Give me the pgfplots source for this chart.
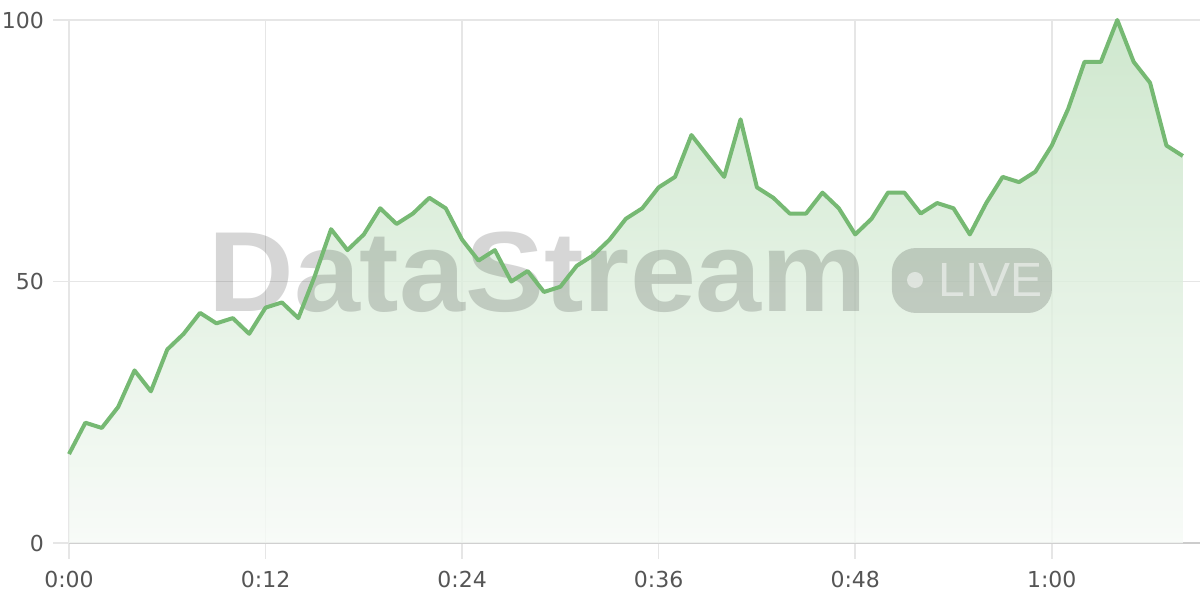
\documentclass[border=0pt]{standalone}
\usepackage{pgfplots}
\usepackage{pgfplotstable}
\pgfplotsset{compat=1.18}
\usepackage{fontspec}
\setmainfont{DejaVu Sans}
\newfontfamily\wmfont{Liberation Sans}
\definecolor{linegreen}{RGB}{118,185,115}
\definecolor{filltop}{RGB}{195,226,194}
\definecolor{fillbot}{RGB}{246,250,246}
\definecolor{gridgray}{RGB}{230,230,230}
\definecolor{axisgray}{RGB}{204,204,204}
\definecolor{labelgray}{RGB}{85,85,85}

\pgfplotstableread{
x y
0 17
1 23
2 22
3 26
4 33
5 29
6 37
7 40
8 44
9 42
10 43
11 40
12 45
13 46
14 43
15 51
16 60
17 56
18 59
19 64
20 61
21 63
22 66
23 64
24 58
25 54
26 56
27 50
28 52
29 48
30 49
31 53
32 55
33 58
34 62
35 64
36 68
37 70
38 78
39 74
40 70
41 81
42 68
43 66
44 63
45 63
46 67
47 64
48 59
49 62
50 67
51 67
52 63
53 65
54 64
55 59
56 65
57 70
58 69
59 71
60 76
61 83
62 92
63 92
64 100
65 92
66 88
67 76
68 74
}\datatable

\begin{document}
\begin{tikzpicture}
\useasboundingbox (-34.5pt,-28.5pt) rectangle (565.5pt,271.5pt);
\begin{axis}[
  at={(0,0)}, anchor=south west,
  scale only axis, width=565.5pt, height=261.5pt,
  xmin=0, xmax=69.05, ymin=0, ymax=100,
  xtick={0,12,24,36,48,60},
  xticklabels={0:00,0:12,0:24,0:36,0:48,1:00},
  ytick={0,50,100},
  axis x line*=bottom, axis y line*=left,
  axis line style={-},
  x axis line style={axisgray, line width=0.75pt},
  y axis line style={gridgray, line width=0.75pt},
  grid=major, major grid style={gridgray, line width=0.75pt},
  tick align=outside, major tick length=8pt,
  tick style={gridgray, line width=0.75pt},
  ticklabel style={font=\fontsize{11}{13}\selectfont, text=labelgray},
  xticklabel style={yshift=-2.5pt},
  yticklabel style={xshift=-1pt},
  /pgf/number format/assume math mode=true,
  clip=false,
]
\addplot[draw=none, top color=filltop, bottom color=fillbot, fill opacity=0.8] table {\datatable} \closedcycle;
\node[anchor=base west, inner sep=0pt, text=black, text opacity=0.16, xscale=1.04, font=\wmfont\bfseries\fontsize{57}{60}\selectfont] at (axis cs:8.49,44.2) {DataStream};
\fill[black, opacity=0.16, rounded corners=12pt] (axis cs:50.24,43.98) rectangle (axis cs:60.01,56.4);
\fill[white, opacity=0.5] (axis cs:51.65,50.29) circle[radius=4pt];
\node[anchor=base west, inner sep=0pt, text=white, text opacity=0.5, font=\wmfont\fontsize{24}{26}\selectfont] at (axis cs:53.05,47.04) {LIVE};
\addplot[linegreen, line width=2pt, line join=round] table {\datatable};
\end{axis}
\end{tikzpicture}
\end{document}
